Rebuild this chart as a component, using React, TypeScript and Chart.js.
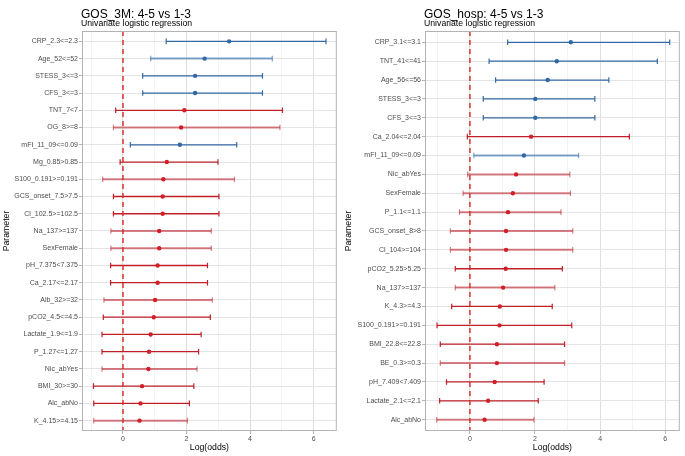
import React, { useEffect, useRef } from "react";
import { Chart, registerables } from "chart.js";
Chart.register(...registerables);

const FONT = "'Liberation Sans', Arial, Helvetica, sans-serif";

// ---- Left panel: GOS_3M ----
const leftLabels = ["CRP_2.3<=2.3","Age_52<=52","STESS_3<=3","CFS_3<=3","TNT_7<7","OG_8>=8","mFI_11_09<=0.09","Mg_0.85>0.85","S100_0.191>=0.191","GCS_onset_7.5>7.5","Cl_102.5>=102.5","Na_137>=137","SexFemale","pH_7.375<7.375","Ca_2.17<=2.17","Alb_32>=32","pCO2_4.5<=4.5","Lactate_1.9<=1.9","P_1.27<=1.27","Nic_abYes","BMI_30>=30","Alc_abNo","K_4.15>=4.15"];
const leftEst = [3.34,2.57,2.27,2.27,1.93,1.83,1.79,1.38,1.27,1.25,1.25,1.14,1.14,1.09,1.09,1.01,0.97,0.87,0.82,0.80,0.60,0.55,0.52];
const leftLow = [1.36,0.87,0.62,0.62,-0.23,-0.30,0.23,-0.09,-0.64,-0.30,-0.30,-0.38,-0.38,-0.39,-0.39,-0.60,-0.62,-0.66,-0.66,-0.66,-0.93,-0.92,-0.92];
const leftHigh = [6.39,4.70,4.39,4.39,5.02,4.94,3.58,2.99,3.51,3.02,3.02,2.78,2.78,2.66,2.66,2.81,2.75,2.46,2.38,2.33,2.23,2.09,2.03];
const leftGroup = [1,2,1,1,1,2,1,1,2,1,1,2,2,1,1,2,1,1,1,2,1,1,2];

// ---- Right panel: GOS_hosp ----
const rightLabels = ["CRP_3.1<=3.1","TNT_41<=41","Age_56<=56","STESS_3<=3","CFS_3<=3","Ca_2.04<=2.04","mFI_11_09<=0.09","Nic_abYes","SexFemale","P_1.1<=1.1","GCS_onset_8>8","Cl_104>=104","pCO2_5.25>5.25","Na_137>=137","K_4.3>=4.3","S100_0.191>=0.191","BMI_22.8<=22.8","BE_0.3>=0.3","pH_7.409<7.409","Lactate_2.1<=2.1","Alc_abNo"];
const rightEst = [3.10,2.67,2.39,2.01,2.01,1.88,1.66,1.42,1.32,1.17,1.11,1.11,1.10,1.02,0.92,0.91,0.83,0.83,0.76,0.56,0.45];
const rightLow = [1.16,0.59,0.79,0.41,0.41,-0.08,0.12,-0.07,-0.21,-0.32,-0.60,-0.60,-0.45,-0.45,-0.56,-1.01,-0.91,-0.91,-0.72,-0.93,-1.02];
const rightHigh = [6.14,5.76,4.27,3.84,3.84,4.90,3.34,3.07,3.09,2.80,3.16,3.16,2.84,2.61,2.53,3.13,2.91,2.91,2.28,2.10,1.97];
const rightGroup = [1,1,1,1,1,1,2,2,2,2,2,2,1,2,1,1,1,2,1,1,2];

const xTickValues = [-1, 0, 1, 2, 3, 4, 5, 6];
const subtitleText = "Univariate logistic regression";

type Panel = {
  title: string;
  labels: string[];
  est: number[];
  low: number[];
  high: number[];
  group: number[];
  xmin: number;
  xmax: number;
  yAxisWidth: number;
  width: number;
};

const panelDecor = {
  id: "panelDecor",
  afterDraw(chart: any, _args: any, opts: any) {
    const { ctx, chartArea } = chart;
    ctx.save();
    ctx.strokeStyle = "#b3b3b3";
    ctx.lineWidth = 1;
    ctx.strokeRect(chartArea.left + 0.5, chartArea.top + 0.5, chartArea.right - chartArea.left - 1, chartArea.bottom - chartArea.top - 1);
    ctx.fillStyle = "#000";
    ctx.textAlign = "left";
    ctx.textBaseline = "alphabetic";
    ctx.font = `12px ${FONT}`;
    ctx.fillText(opts.title, chartArea.left - 1, 17.5);
    ctx.font = `8.7px ${FONT}`;
    ctx.fillText(subtitleText, chartArea.left - 1, 26);
    ctx.restore();
  },
};

function makeConfig(p: Panel): any {
  const n = p.labels.length;
  const datasets: any[] = [];
  datasets.push({
    type: "line",
    data: [{ x: 0, y: -0.6 }, { x: 0, y: n - 1 + 0.6 }],
    borderColor: "rgba(214,45,45,0.85)",
    borderWidth: 1.7,
    borderDash: [5, 4],
    pointRadius: 0,
    order: 0,
  });
  const ptColors = p.low.map((l) => (l > 0 ? "#2f68a6" : "#d11f27"));
  datasets.push({
    type: "scatter",
    data: p.est.map((v, i) => ({ x: v, y: i })),
    pointBackgroundColor: ptColors,
    pointBorderColor: ptColors,
    pointBorderWidth: 0,
    pointRadius: 2.2,
    order: 1,
  });
  p.labels.forEach((_, i) => {
    const sig = p.low[i] > 0;
    const light = p.group[i] === 2;
    const col = sig
      ? light ? "rgba(60,115,175,0.65)" : "rgba(42,98,160,0.95)"
      : light ? "rgba(190,40,50,0.6)" : "rgba(190,20,30,0.95)";
    datasets.push({
      type: "line",
      data: [{ x: p.low[i], y: i }, { x: p.high[i], y: i }],
      borderColor: col,
      borderWidth: light ? 2 : 1.3,
      pointStyle: "line",
      rotation: 90,
      pointRadius: 2.8,
      pointBorderColor: col,
      pointBorderWidth: 1.2,
      order: 2,
    });
  });

  return {
    type: "scatter",
    data: { datasets },
    plugins: [panelDecor],
    options: {
      responsive: false,
      animation: false,
      devicePixelRatio: 1,
      layout: { padding: { top: 31, right: 5, left: 0, bottom: 0 } },
      plugins: {
        legend: { display: false },
        tooltip: { enabled: false },
        panelDecor: { title: p.title },
      },
      scales: {
        x: {
          type: "linear",
          min: p.xmin,
          max: p.xmax,
          bounds: "data",
          afterBuildTicks: (s: any) => {
            s.ticks = xTickValues.map((v) => ({ value: v }));
          },
          afterFit: (s: any) => {
            s.height = 25;
          },
          ticks: {
            autoSkip: false,
            maxRotation: 0,
            padding: 1,
            color: "#4d4d4d",
            font: { family: FONT, size: 7 },
            callback: (v: any) => (Number(v) % 2 === 0 ? String(v) : ""),
          },
          grid: {
            color: (c: any) => (c.tick && c.tick.value % 2 === 0 ? "#dedede" : "#eeeeee"),
            lineWidth: (c: any) => (c.tick && c.tick.value % 2 === 0 ? 1 : 0.7),
            tickColor: (c: any) => (c.tick && c.tick.value % 2 === 0 ? "#b3b3b3" : "rgba(0,0,0,0)"),
            tickLength: 3,
          },
          border: { display: false },
          title: {
            display: true,
            text: "Log(odds)",
            color: "#000",
            font: { family: FONT, size: 8.7 },
            padding: { top: 0, bottom: 3 },
          },
        },
        y: {
          type: "linear",
          min: -0.6,
          max: n - 1 + 0.6,
          reverse: true,
          bounds: "data",
          afterBuildTicks: (s: any) => {
            s.ticks = p.labels.map((_, i) => ({ value: i }));
          },
          afterFit: (s: any) => {
            s.width = p.yAxisWidth;
          },
          ticks: {
            autoSkip: false,
            padding: 1,
            color: "#4d4d4d",
            font: { family: FONT, size: 7 },
            callback: (v: any) => p.labels[Number(v)] ?? "",
          },
          grid: {
            color: "#e4e4e4",
            lineWidth: 1,
            tickColor: "#b3b3b3",
            tickLength: 3,
          },
          border: { display: false },
          title: {
            display: true,
            text: "Parameter",
            color: "#000",
            font: { family: FONT, size: 8.7 },
            padding: { top: 1, bottom: 0 },
          },
        },
      },
    },
  };
}

function ForestPanel({ panel }: { panel: Panel }) {
  const ref = useRef<HTMLCanvasElement | null>(null);
  useEffect(() => {
    if (!ref.current) return;
    const chart = new Chart(ref.current, makeConfig(panel));
    return () => chart.destroy();
  }, [panel]);
  return <canvas ref={ref} width={panel.width} height={456} style={{ display: "block", width: panel.width, height: 456 }} />;
}

const leftPanel: Panel = {
  title: "GOS_3M: 4-5 vs 1-3",
  labels: leftLabels,
  est: leftEst,
  low: leftLow,
  high: leftHigh,
  group: leftGroup,
  xmin: -1.29,
  xmax: 6.73,
  yAxisWidth: 82,
  width: 342,
};

const rightPanel: Panel = {
  title: "GOS_hosp: 4-5 vs 1-3",
  labels: rightLabels,
  est: rightEst,
  low: rightLow,
  high: rightHigh,
  group: rightGroup,
  xmin: -1.38,
  xmax: 6.45,
  yAxisWidth: 83,
  width: 343,
};

export default function App() {
  return (
    <div style={{ position: "fixed", left: 0, top: 0, width: 685, height: 456, display: "flex", background: "#fff" }}>
      <ForestPanel panel={leftPanel} />
      <ForestPanel panel={rightPanel} />
    </div>
  );
}
